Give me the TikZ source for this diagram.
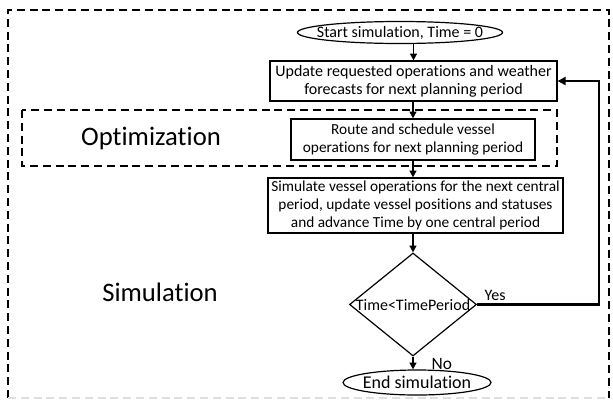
\documentclass[tikz,border=0pt]{standalone}
\usepackage{fontspec}
\setmainfont[Ligatures=NoCommon]{Carlito}
\usetikzlibrary{shapes.geometric,arrows.meta,calc}
\begin{document}
\begin{tikzpicture}[x=0.75pt,y=-0.75pt,
  font=\fontsize{12}{13.5}\selectfont,
  stepbox/.style={draw,line width=0.9pt,align=center,inner sep=0pt},
  smallstep/.style={stepbox,font=\fontsize{11.5}{13.5}\selectfont},
  terminal/.style={draw,ellipse,line width=0.9pt,inner sep=0pt},
  flow/.style={-{Triangle[length=5pt,width=5pt]},line width=1.3pt},
  loopline/.style={-{Triangle[length=6pt,width=6pt]},line width=1.7pt},
  region/.style={dashed,dash pattern=on 6pt off 3.6pt,line width=1.2pt},
  bigtext/.style={font=\fontsize{20}{24}\selectfont}]
\useasboundingbox (0,0) rectangle (613,404);

% outer simulation region
\draw[region] (8,398) -- (8,10) -- (609,10) -- (609,398);
\draw[region,gray!25] (8,398) -- (609,398);

% optimization region
\draw[region] (22,110) rectangle (557,166);
\node[bigtext] (optlabel) at (151,138) {Optimization};
\node[bigtext] (simlabel) at (160,292) {Simulation};

% flowchart nodes (sizes in pt)
\node[terminal,minimum width=153.75pt,minimum height=16.5pt] (start) at (400,32.5)
  {\makebox[0pt]{Start simulation, Time = 0}};
\node[stepbox,minimum width=215.25pt,minimum height=30pt] (upd) at (413.5,81)
  {Update requested operations and weather\\forecasts for next planning period};
\node[smallstep,minimum width=183pt,minimum height=30.75pt] (route) at (413,139.5)
  {Route and schedule vessel\\operations for next planning period};
\node[smallstep,minimum width=221.25pt,minimum height=41.25pt] (sim) at (415.5,205.5)
  {Simulate vessel operations for the next central\\period, update vessel positions and statuses\\and advance Time by one central period};
\node[draw,diamond,line width=0.9pt,inner sep=0pt,minimum width=95.25pt,minimum height=77.25pt] (dec) at (413,304.5)
  {\makebox[0pt]{Time<TimePeriod}};
\node[terminal,minimum width=111pt,minimum height=18.75pt,font=\fontsize{13.5}{15}\selectfont] (stop) at (417,382.5)
  {\makebox[0pt]{End simulation}};

% connectors
\draw[flow] (start.south -| upd.north) -- (upd.north);
\draw[flow] (upd.south -| route.north) -- (route.north);
\draw[flow] (route.south) -- (route.south |- sim.north);
\draw[flow] (sim.south -| dec.north) -- (dec.north);
\draw[flow] (dec.south) -- (dec.south |- stop.north);
\coordinate (loopdown) at (599,304.5);
\coordinate (loopup) at (599,81);
\draw[loopline] (dec.east) -- (loopdown) -- (loopup) -- (upd.east);

% branch labels
\node[anchor=south west,inner sep=1pt] (yes) at ($(dec.east)+(6,-2)$) {Yes};
\node[anchor=west,inner sep=1pt,font=\fontsize{13}{15}\selectfont] (no) at ($(dec.south)+(17,7)$) {No};
\end{tikzpicture}
\end{document}
